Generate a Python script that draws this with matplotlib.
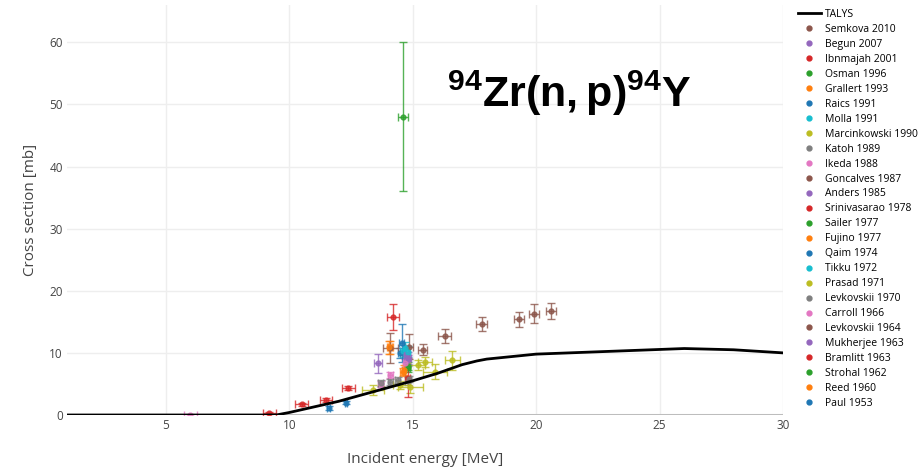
import matplotlib
matplotlib.use("Agg")
import matplotlib.pyplot as plt
from matplotlib.lines import Line2D

plt.rcParams['font.family'] = ['Open Sans', 'DejaVu Sans']
plt.rcParams['mathtext.fontset'] = 'custom'
plt.rcParams['mathtext.rm'] = 'Liberation Sans'
plt.rcParams['mathtext.bf'] = 'Liberation Sans:bold'

# TALYS calculation
talys_e = [1, 5, 9, 9.5, 10, 11, 12, 13, 14, 15, 16, 17, 17.6, 18, 20, 22, 24, 26, 28, 30]
talys_xs = [0, 0, 0, 0.02, 0.4, 1.3, 2.2, 3.3, 4.4, 5.5, 6.7, 8.1, 8.7, 9.0, 9.8, 10.1, 10.4, 10.7, 10.5, 10.0]

# experimental data (energy, xs, xs error, energy error)
names = ["Semkova 2010", "Begun 2007", "Ibnmajah 2001", "Osman 1996", "Grallert 1993",
         "Raics 1991", "Molla 1991", "Marcinkowski 1990", "Katoh 1989", "Ikeda 1988",
         "Goncalves 1987", "Anders 1985", "Srinivasarao 1978", "Sailer 1977", "Fujino 1977",
         "Qaim 1974", "Tikku 1972", "Prasad 1971", "Levkovskii 1970", "Carroll 1966",
         "Levkovskii 1964", "Mukherjee 1963", "Bramlitt 1963", "Strohal 1962", "Reed 1960",
         "Paul 1953"]

energy = [
    [15.4, 16.3, 17.8, 19.3, 19.9, 20.6],
    [13.6, 14.8],
    [14.2],
    [14.6],
    [14.05, 14.65],
    [14.55],
    [14.7, 14.8],
    [13.4, 14.5, 15.2, 15.5],
    [13.7, 14.1, 14.4, 14.85],
    [13.7, 14.1, 14.7],
    [14.85],
    [14.75],
    [14.8],
    [14.8],
    [14.6],
    [11.6, 12.3],
    [14.6],
    [14.9, 15.9, 16.6],
    [14.8],
    [6.0],
    [14.1],
    [14.8],
    [9.2, 10.5, 11.5, 12.4],
    [14.8],
    [14.1],
    [14.5],
]
xs = [
    [10.5, 12.7, 14.6, 15.4, 16.3, 16.7],
    [8.3, 9.2],
    [15.8],
    [48.0],
    [10.9, 7.2],
    [11.6],
    [10.8, 10.2],
    [4.0, 4.8, 8.1, 8.6],
    [5.1, 5.3, 5.6, 5.8],
    [5.0, 6.4, 8.4],
    [11.0],
    [9.8],
    [6.0],
    [7.9],
    [6.9],
    [1.1, 2.0],
    [10.3],
    [4.5, 7.0, 8.8],
    [5.5],
    [0.05],
    [10.8],
    [8.8],
    [0.3, 1.7, 2.4, 4.3],
    [7.5],
    [10.9],
    [10.0],
]
xs_err = [
    [0.9, 1.1, 1.1, 1.2, 1.5, 1.3],
    [1.6, 1.0],
    [2.1],
    [12.0],
    [1.0, 0.8],
    [3.1],
    [1.0, 0.9],
    [0.8, 0.6, 0.8, 0.8],
    [0.5, 0.5, 0.5, 0.5],
    [0.5, 0.5, 0.6],
    [2.0],
    [0.8],
    [3.1],
    [0.6],
    [0.7],
    [0.3, 0.2],
    [1.0],
    [1.0, 1.2, 1.5],
    [0.6],
    [0.15],
    [2.4],
    [0.9],
    [0.2, 0.2, 0.3, 0.3],
    [0.6],
    [1.0],
    [0.8],
]
e_err = [
    [0.2, 0.27, 0.22, 0.2, 0.2, 0.2],
    [0.15, 0.15],
    [0.24],
    [0.2],
    [0.1, 0.1],
    [0.1],
    [0.1, 0.1],
    [0.45, 0.3, 0.3, 0.3],
    [0.1, 0.1, 0.1, 0.1],
    [0.1, 0.1, 0.1],
    [0.15],
    [0.1],
    [0.1],
    [0.1],
    [0.1],
    [0.05, 0.05],
    [0.1],
    [0.5, 0.5, 0.3],
    [0.1],
    [0.25],
    [0.3],
    [0.1],
    [0.25, 0.25, 0.25, 0.25],
    [0.1],
    [0.1],
    [0.1],
]

palette = ['#1f77b4', '#ff7f0e', '#2ca02c', '#d62728', '#9467bd',
           '#8c564b', '#e377c2', '#7f7f7f', '#bcbd22', '#17becf']
n = len(names)
colors = [palette[(n - 1 - i) % 10] for i in range(n)]

fig = plt.figure(figsize=(9.2, 4.72), dpi=100)
ax = fig.add_axes([67 / 920, 57 / 472, 716 / 920, 410 / 472])

ax.axhline(0, color='#bdbdbd', lw=2.2, zorder=1)

for i in range(n - 1, -1, -1):
    ax.errorbar(energy[i], xs[i], yerr=xs_err[i], xerr=e_err[i], fmt='o', ms=3.5,
                color=colors[i], ecolor=colors[i], elinewidth=1, capsize=3,
                capthick=1, alpha=0.8, zorder=3)

ax.plot(talys_e, talys_xs, color='black', lw=2, zorder=4)

handles = [Line2D([], [], color='black', lw=2)]
for i in range(n):
    handles.append(Line2D([], [], color=colors[i], marker='o', ms=3.5, ls='none'))

ax.set_xlim(1, 30)
ax.set_ylim(0, 66)
ax.set_xticks([5, 10, 15, 20, 25, 30])
ax.set_yticks([0, 10, 20, 30, 40, 50, 60])
ax.grid(True, color='#eeeeee', lw=1)
ax.set_axisbelow(True)
for s in ax.spines.values():
    s.set_visible(False)
ax.tick_params(length=0, labelsize=8.5, colors='#444444', pad=3)
ax.set_xlabel("Incident energy [MeV]", fontsize=11, color='#444444', labelpad=14)
ax.set_ylabel("Cross section [mb]", fontsize=11, color='#444444', labelpad=8)

fig.text(447 / 920, 1 - 107 / 472, r'$\mathbf{{}^{94}Zr(n,p){}^{94}Y}$',
         fontsize=31, va='baseline', ha='left', color='black')

fig.legend(handles, ["TALYS"] + names, loc='upper left',
           bbox_to_anchor=(798 / 920, 1 - 9 / 472), frameon=False,
           fontsize=7.5, handlelength=2.2, handletextpad=0.4,
           labelspacing=0.38, borderpad=0, borderaxespad=0)

fig.savefig("out.png", dpi=100)
